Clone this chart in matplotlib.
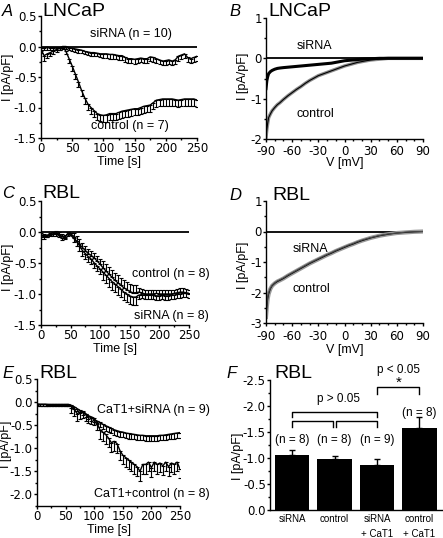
import numpy as np
import matplotlib
matplotlib.use('Agg')
import matplotlib.pyplot as plt
from matplotlib.ticker import MultipleLocator, FormatStrFormatter

plt.rcParams['font.family'] = ['Liberation Sans', 'DejaVu Sans']
plt.rcParams['font.size'] = 9
plt.rcParams['axes.unicode_minus'] = False
plt.rcParams['axes.linewidth'] = 1.0
plt.rcParams['xtick.major.size'] = 2.5
plt.rcParams['ytick.major.size'] = 2.5
plt.rcParams['xtick.minor.size'] = 1.5
plt.rcParams['ytick.minor.size'] = 1.5
plt.rcParams['xtick.major.pad'] = 0.5
plt.rcParams['ytick.major.pad'] = 0.5

TICKFONT = dict(family='DejaVu Sans', size=8.5)

# ---------------- data ----------------
t = np.arange(0, 251, 5)

# A: LNCaP time course
a_sirna = [-0.03, -0.02, -0.01, -0.02, -0.02, -0.02, -0.02, 0.0, 0.0, -0.02,
           -0.03, -0.04, -0.05, -0.06, -0.08, -0.09, -0.10, -0.10, -0.11, -0.12,
           -0.12, -0.12, -0.13, -0.13, -0.14, -0.15, -0.15, -0.18, -0.20, -0.20,
           -0.21, -0.20, -0.19, -0.20, -0.20, -0.17, -0.18, -0.20, -0.22, -0.24,
           -0.23, -0.22, -0.24, -0.22, -0.16, -0.14, -0.12, -0.18, -0.20, -0.18,
           -0.16]
a_sirna_err = [0.04] * 10 + [0.05] * 10 + [0.07] * 31
a_control = [-0.05, -0.15, -0.12, -0.10, -0.07, -0.05, -0.03, 0.0, -0.08, -0.20,
             -0.32, -0.45, -0.58, -0.72, -0.84, -0.94, -1.00, -1.05, -1.10, -1.12,
             -1.13, -1.12, -1.10, -1.10, -1.10, -1.08, -1.06, -1.05, -1.04, -1.03,
             -1.02, -1.02, -1.00, -0.98, -0.97, -0.96, -0.92, -0.88, -0.87, -0.86,
             -0.86, -0.86, -0.86, -0.87, -0.88, -0.87, -0.86, -0.86, -0.86, -0.86,
             -0.88]
a_control_err = [0.06, 0.08, 0.07, 0.06, 0.05, 0.04, 0.03, 0.02, 0.05, 0.07,
                 0.08, 0.08, 0.09, 0.09, 0.10, 0.10, 0.10, 0.10, 0.10, 0.10] + [0.11] * 31

# B: LNCaP I/V
v = [-90, -89, -88, -87, -85, -83, -80, -77, -74, -70, -65, -60, -55, -50, -45,
     -40, -35, -30, -25, -20, -15, -10, -5, 0, 5, 10, 15, 20, 30, 40, 50, 60,
     70, 80, 90]
b_control = [-1.95, -1.75, -1.60, -1.47, -1.38, -1.30, -1.22, -1.15, -1.10, -1.02,
             -0.93, -0.85, -0.77, -0.70, -0.62, -0.55, -0.49, -0.43, -0.39, -0.35,
             -0.31, -0.27, -0.23, -0.19, -0.16, -0.13, -0.10, -0.08, -0.04, -0.02,
             0.0, 0.0, 0.0, 0.0, 0.0]
b_sirna = [-0.75, -0.55, -0.45, -0.38, -0.33, -0.30, -0.27, -0.25, -0.24, -0.23,
           -0.22, -0.21, -0.20, -0.19, -0.18, -0.17, -0.16, -0.15, -0.14, -0.13,
           -0.12, -0.10, -0.08, -0.06, -0.05, -0.04, -0.03, -0.02, -0.01, 0.0,
           0.0, 0.0, 0.0, 0.0, 0.0]

# C: RBL time course
c_control = [-0.05, -0.06, -0.08, -0.05, -0.03, -0.02, -0.03, -0.07, -0.08, -0.03,
             -0.05, -0.10, -0.15, -0.20, -0.25, -0.30, -0.35, -0.38, -0.42, -0.47,
             -0.52, -0.58, -0.63, -0.68, -0.73, -0.78, -0.82, -0.86, -0.90, -0.93,
             -0.96, -0.98, -0.98, -0.97, -0.98, -1.00, -1.00, -1.00, -1.00, -0.99,
             -1.00, -1.00, -1.00, -1.00, -1.00, -0.99, -0.98, -0.97, -0.97, -0.98,
             -0.99]
c_control_err = [0.03] * 11 + [0.08] * 10 + [0.12] * 12 + [0.06] * 18
c_sirna = [-0.08, -0.08, -0.05, -0.04, -0.04, -0.03, -0.05, -0.10, -0.09, -0.03,
           -0.02, -0.08, -0.15, -0.22, -0.30, -0.35, -0.40, -0.44, -0.50, -0.55,
           -0.60, -0.65, -0.70, -0.75, -0.80, -0.84, -0.88, -0.92, -0.97, -1.00,
           -1.03, -1.05, -1.05, -1.02, -1.01, -1.02, -1.02, -1.02, -1.02, -1.03,
           -1.03, -1.02, -1.03, -1.03, -1.02, -1.02, -1.00, -1.00, -0.99, -0.99,
           -1.00]
c_sirna_err = [0.03] * 11 + [0.08] * 10 + [0.13] * 12 + [0.06] * 18

# D: RBL I/V
d_control = [-2.80, -2.45, -2.20, -2.05, -1.88, -1.78, -1.70, -1.64, -1.60, -1.54,
             -1.45, -1.37, -1.29, -1.21, -1.13, -1.05, -0.98, -0.91, -0.84, -0.77,
             -0.71, -0.64, -0.58, -0.52, -0.46, -0.41, -0.35, -0.30, -0.21, -0.14,
             -0.09, -0.05, -0.03, -0.01, 0.0]
d_sirna = [-2.70, -2.40, -2.15, -2.00, -1.85, -1.76, -1.68, -1.62, -1.58, -1.52,
           -1.43, -1.35, -1.27, -1.19, -1.11, -1.03, -0.96, -0.89, -0.82, -0.75,
           -0.69, -0.62, -0.56, -0.50, -0.44, -0.39, -0.33, -0.28, -0.20, -0.13,
           -0.08, -0.05, -0.02, -0.01, 0.0]

# E: RBL + CaT1 time course
e_sirna = [-0.04, -0.05, -0.05, -0.05, -0.05, -0.05, -0.05, -0.05, -0.05, -0.05,
           -0.05, -0.05, -0.07, -0.10, -0.14, -0.18, -0.22, -0.26, -0.30, -0.34,
           -0.38, -0.41, -0.44, -0.48, -0.51, -0.54, -0.57, -0.60, -0.62, -0.64,
           -0.65, -0.67, -0.68, -0.69, -0.70, -0.71, -0.72, -0.72, -0.73, -0.73,
           -0.73, -0.73, -0.73, -0.72, -0.72, -0.71, -0.70, -0.69, -0.68, -0.67,
           -0.66]
e_sirna_err = [0.03] * 12 + [0.06] * 10 + [0.11] * 29
e_control = [-0.05, -0.05, -0.05, -0.05, -0.06, -0.06, -0.06, -0.06, -0.06, -0.06,
             -0.06, -0.06, -0.08, -0.15, -0.25, -0.22, -0.20, -0.25, -0.30, -0.32,
             -0.35, -0.45, -0.60, -0.65, -0.70, -0.78, -0.88, -0.85, -0.90, -1.05,
             -1.15, -1.20, -1.25, -1.30, -1.35, -1.40, -1.50, -1.35, -1.35, -1.30,
             -1.42, -1.30, -1.35, -1.32, -1.38, -1.30, -1.40, -1.32, -1.35, -1.30,
             -1.45]
e_control_err = [0.03] * 12 + [0.15] * 10 + [0.2] * 29

# F: bar summary (RBL)
f_groups = ['siRNA', 'control', 'siRNA\n+ CaT1', 'control\n+ CaT1']
f_means = [-1.06, -0.99, -0.86, -1.58]
f_err = [0.10, 0.04, 0.12, 0.21]
f_n = ['(n = 8)', '(n = 8)', '(n = 9)', '(n = 8)']

# ---------------- figure ----------------
fig = plt.figure(figsize=(4.43, 5.38), dpi=100)
W, H = 443.0, 538.0


def add_ax(left, top, right, bottom):
    return fig.add_axes([left / W, 1 - bottom / H, (right - left) / W, (bottom - top) / H])


def style(ax):
    ax.spines['top'].set_visible(False)
    ax.spines['right'].set_visible(False)
    ax.tick_params(which='both', direction='out', width=1.0)


def tickfont(ax):
    for lab in ax.get_xticklabels() + ax.get_yticklabels():
        lab.set_fontfamily(TICKFONT['family'])
        lab.set_fontsize(TICKFONT['size'])


def header(x_letter, x_title, y, letter, title):
    fig.text(x_letter / W, 1 - y / H, letter, fontsize=12, style='italic', va='center', ha='left')
    fig.text(x_title / W, 1 - y / H, title, fontsize=14, va='center', ha='left')


def labels(ax, xlab, x_py, ylab, y_px, y_py):
    # positions in figure pixels
    if xlab:
        fig.text((ax.get_position().x0 + ax.get_position().width / 2), 1 - x_py / H, xlab,
                 ha='center', va='center', fontsize=9)
    fig.text(y_px / W, 1 - y_py / H, ylab, ha='center', va='center', rotation=90, fontsize=9)


def trace(ax, x, y, err, side):
    if side == 'down':
        yerr = [err, [0] * len(err)]
    else:
        yerr = [[0] * len(err), err]
    ax.errorbar(x, y, yerr=yerr, fmt='none', ecolor='black', elinewidth=0.8, capsize=1.5, capthick=0.8)
    ax.plot(x, y, color='black', lw=1.0)


# A
axA = add_ax(41, 16, 197, 138)
style(axA)
axA.axhline(0, color='black', lw=1.3)
trace(axA, t, a_sirna, a_sirna_err, 'down')
trace(axA, t, a_control, a_control_err, 'down')
axA.set_xlim(0, 250)
axA.set_ylim(-1.5, 0.5)
axA.xaxis.set_major_locator(MultipleLocator(50))
axA.xaxis.set_minor_locator(MultipleLocator(25))
axA.yaxis.set_major_locator(MultipleLocator(0.5))
axA.yaxis.set_minor_locator(MultipleLocator(0.25))
axA.yaxis.set_major_formatter(FormatStrFormatter('%.1f'))
tickfont(axA)
axA.text(209, 0.21, 'siRNA (n = 10)', ha='right', va='center', clip_on=False)
axA.text(205, -1.3, 'control (n = 7)', ha='right', va='center', clip_on=False)
labels(axA, 'Time [s]', 162, 'I [pA/pF]', 8, 77)
header(2, 42, 11, 'A', 'LNCaP')

# B
axB = add_ax(266, 18, 423, 139)
style(axB)
axB.axhline(0, color='black', lw=1.3)
axB.plot(v, b_control, color='0.55', lw=2.5)
axB.plot(v, b_control, color='black', lw=0.8)
axB.plot(v, b_sirna, color='black', lw=2.2)
axB.set_xlim(-90, 90)
axB.set_ylim(-2, 1)
axB.xaxis.set_major_locator(MultipleLocator(30))
axB.xaxis.set_minor_locator(MultipleLocator(10))
axB.yaxis.set_major_locator(MultipleLocator(1))
axB.yaxis.set_minor_locator(MultipleLocator(0.5))
axB.tick_params(axis='x', which='major', pad=2)
tickfont(axB)
axB.text(-55, 0.3, 'siRNA', ha='left', va='center')
axB.text(-55, -1.37, 'control', ha='left', va='center')
labels(axB, 'V [mV]', 163, 'I [pA/pF]', 243, 76)
header(229, 268, 11, 'B', 'LNCaP')

# C
axC = add_ax(41, 201, 189, 325)
style(axC)
axC.axhline(0, color='black', lw=1.3)
trace(axC, t, c_control, c_control_err, 'up')
trace(axC, t, c_sirna, c_sirna_err, 'down')
axC.set_xlim(0, 250)
axC.set_ylim(-1.5, 0.5)
axC.xaxis.set_major_locator(MultipleLocator(50))
axC.xaxis.set_minor_locator(MultipleLocator(25))
axC.yaxis.set_major_locator(MultipleLocator(0.5))
axC.yaxis.set_minor_locator(MultipleLocator(0.25))
axC.yaxis.set_major_formatter(FormatStrFormatter('%.1f'))
tickfont(axC)
axC.text(284, -0.67, 'control (n = 8)', ha='right', va='center', clip_on=False)
axC.text(284, -1.35, 'siRNA (n = 8)', ha='right', va='center', clip_on=False)
labels(axC, 'Time [s]', 349, 'I [pA/pF]', 8, 267)
header(2, 42, 194, 'C', 'RBL')

# D
axD = add_ax(266, 201, 423, 323)
style(axD)
axD.axhline(0, color='black', lw=1.3)
axD.plot(v, d_control, color='0.6', lw=3.0)
axD.plot(v, d_control, color='black', lw=0.8)
axD.plot(v, d_sirna, color='0.3', lw=0.8)
axD.set_xlim(-90, 90)
axD.set_ylim(-3, 1)
axD.xaxis.set_major_locator(MultipleLocator(30))
axD.xaxis.set_minor_locator(MultipleLocator(10))
axD.yaxis.set_major_locator(MultipleLocator(1))
axD.yaxis.set_minor_locator(MultipleLocator(0.5))
axD.tick_params(axis='x', which='major', pad=2.5)
tickfont(axD)
axD.text(-60, -0.56, 'siRNA', ha='left', va='center')
axD.text(-60, -1.9, 'control', ha='left', va='center')
labels(axD, 'V [mV]', 350, 'I [pA/pF]', 243, 265)
header(229, 272, 195, 'D', 'RBL')

# E
axE = add_ax(37, 379, 180, 506)
style(axE)
trace(axE, t, e_sirna, e_sirna_err, 'down')
trace(axE, t, e_control, e_control_err, 'down')
axE.set_xlim(0, 250)
axE.set_ylim(-2.25, 0.5)
axE.xaxis.set_major_locator(MultipleLocator(50))
axE.xaxis.set_minor_locator(MultipleLocator(25))
axE.set_yticks([0.5, 0.0, -0.5, -1.0, -1.5, -2.0])
axE.yaxis.set_minor_locator(MultipleLocator(0.25))
axE.yaxis.set_major_formatter(FormatStrFormatter('%.1f'))
axE.tick_params(axis='x', which='major', pad=0.5)
tickfont(axE)
axE.text(302, -0.17, 'CaT1+siRNA (n = 9)', ha='right', va='center', clip_on=False)
axE.text(302, -2.0, 'CaT1+control (n = 8)', ha='right', va='center', clip_on=False)
labels(axE, 'Time [s]', 530.5, 'I [pA/pF]', 6, 444)
header(2, 39, 374, 'E', 'RBL')

# F
axF = add_ax(270, 380, 442, 510)
style(axF)
xf = np.arange(len(f_groups))
axF.bar(xf, f_means, width=0.82, color='black',
        yerr=[f_err, [0] * 4], error_kw=dict(ecolor='black', elinewidth=1.0, capsize=2.5, capthick=1.0))
axF.set_xlim(-0.52, 3.53)
axF.set_ylim(0, -2.5)
axF.yaxis.set_major_locator(MultipleLocator(0.5))
axF.yaxis.set_minor_locator(MultipleLocator(0.25))
axF.yaxis.set_major_formatter(FormatStrFormatter('%.1f'))
axF.set_xticks(xf)
axF.set_xticklabels(f_groups)
tickfont(axF)
for lab in axF.get_xticklabels():
    lab.set_fontfamily('Liberation Sans')
    lab.set_fontsize(7)
    lab.set_linespacing(1.6)
axF.tick_params(axis='x', length=0, pad=3)
for i in range(4):
    y_n = -1.35 if i < 3 else -1.86
    axF.text(xf[i], y_n, f_n[i], ha='center', va='center', fontsize=8.5)
# brackets
axF.plot([0, 0, 2, 2], [-1.79, -1.89, -1.89, -1.79], color='black', lw=1.0)
axF.plot([0, 0, 0.97, 0.97], [-1.6, -1.71, -1.71, -1.6], color='black', lw=1.0)
axF.plot([1.03, 1.03, 2, 2], [-1.6, -1.71, -1.71, -1.6], color='black', lw=1.0)
axF.plot([2, 2, 3, 3], [-2.24, -2.37, -2.37, -2.24], color='black', lw=1.0)
axF.text(1.1, -2.13, 'p > 0.05', ha='center', va='center', fontsize=8.5)
axF.text(2.5, -2.44, '*', ha='center', va='center', fontsize=11)
axF.text(2.5, -2.69, 'p < 0.05', ha='center', va='center', fontsize=8.5, clip_on=False)
labels(axF, '', 0, 'I [pA/pF]', 238, 456)
header(226, 274, 374, 'F', 'RBL')

fig.savefig('out.png', dpi=100)
